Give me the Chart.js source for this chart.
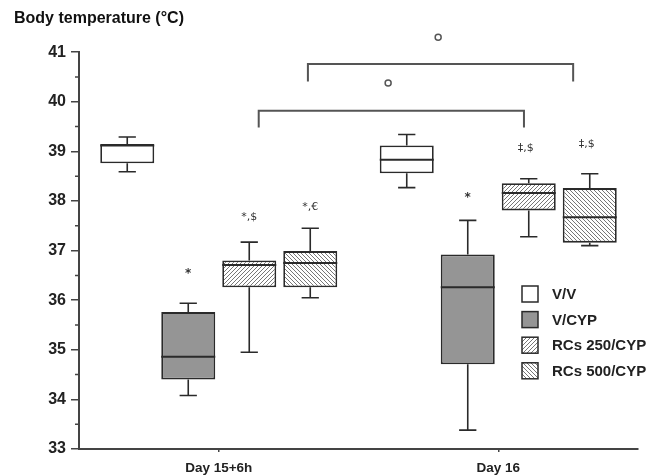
<!DOCTYPE html>
<html>
<head>
<meta charset="utf-8">
<script src="https://cdn.jsdelivr.net/npm/chart.js@4.4.0/dist/chart.umd.min.js"></script>
<style>
  html, body { margin: 0; padding: 0; background: #fff; }
  #wrap { width: 656px; height: 475px; }
</style>
</head>
<body>
<div id="wrap"><canvas id="temp"></canvas></div>
<script>
const categories = ['Day 15+6h', 'Day 16'];
const seriesNames = ['V/V', 'V/CYP', 'RCs 250/CYP', 'RCs 500/CYP'];

// box stats, one value per category
const vvMin = [38.59, 38.27];
const vvQ1  = [38.76, 38.56];
const vvMed = [39.12, 38.83];
const vvQ3  = [39.15, 39.12];
const vvMax = [39.29, 39.34];

const cypMin = [34.08, 33.38];
const cypQ1  = [34.40, 34.71];
const cypMed = [34.86, 36.26];
const cypQ3  = [35.76, 36.92];
const cypMax = [35.94, 37.61];

const rc250Min = [34.95, 37.28];
const rc250Q1  = [36.26, 37.81];
const rc250Med = [36.71, 38.16];
const rc250Q3  = [36.80, 38.36];
const rc250Max = [37.17, 38.45];

const rc500Min = [36.05, 37.10];
const rc500Q1  = [36.26, 37.16];
const rc500Med = [36.75, 37.67];
const rc500Q3  = [36.99, 38.26];
const rc500Max = [37.45, 38.55];

// significance marks above boxes (per series, per category)
const markText = [[null, null], ['*', '*'], ['*,$', '‡,$'], ['*,€', '‡,$']];
const markY    = [[null, null], [36.57, 38.11], [37.68, 39.06], [37.88, 39.14]];

// comparison brackets (x in category units) and their circle marks
const bracketX1   = [0.143, 0.319];
const bracketX2   = [1.092, 1.268];
const bracketY    = [39.82, 40.76];
const bracketLegY = [39.48, 40.41];
const circleX = [0.606, 0.785];
const circleY = [40.38, 41.30];

const yTicksMin = 33, yTicksMax = 41;

const ctx = document.getElementById('temp').getContext('2d');

function hatch(dir) {
  const s = 4;
  const c = document.createElement('canvas');
  c.width = s; c.height = s;
  const g = c.getContext('2d');
  g.fillStyle = '#fff';
  g.fillRect(0, 0, s, s);
  g.strokeStyle = '#777';
  g.lineWidth = 1;
  g.beginPath();
  if (dir > 0) {
    g.moveTo(0, s); g.lineTo(s, 0);
    g.moveTo(-1, 1); g.lineTo(1, -1);
    g.moveTo(s - 1, s + 1); g.lineTo(s + 1, s - 1);
  } else {
    g.moveTo(0, 0); g.lineTo(s, s);
    g.moveTo(s - 1, -1); g.lineTo(s + 1, 1);
    g.moveTo(-1, s - 1); g.lineTo(1, s + 1);
  }
  g.stroke();
  return ctx.createPattern(c, 'repeat');
}

const fills = ['#ffffff', '#959595', hatch(1), hatch(-1)];
const stats = [
  { min: vvMin, q1: vvQ1, med: vvMed, q3: vvQ3, max: vvMax },
  { min: cypMin, q1: cypQ1, med: cypMed, q3: cypQ3, max: cypMax },
  { min: rc250Min, q1: rc250Q1, med: rc250Med, q3: rc250Q3, max: rc250Max },
  { min: rc500Min, q1: rc500Q1, med: rc500Med, q3: rc500Q3, max: rc500Max }
];

const ink = '#2a2a2a';
const fontFam = 'Arial, "Liberation Sans", sans-serif';
Chart.defaults.font.family = fontFam;

// whiskers + medians on top of the floating bars
const boxPlot = {
  id: 'boxPlot',
  afterDatasetsDraw(chart) {
    const c = chart.ctx, y = chart.scales.y;
    c.save();
    c.strokeStyle = ink;
    chart.data.datasets.forEach((ds, i) => {
      const st = stats[i];
      chart.getDatasetMeta(i).data.forEach((bar, j) => {
        const x = bar.x, half = bar.width / 2, cap = bar.width * 0.16;
        const pMin = y.getPixelForValue(st.min[j]);
        const pMax = y.getPixelForValue(st.max[j]);
        const pQ1 = y.getPixelForValue(st.q1[j]);
        const pQ3 = y.getPixelForValue(st.q3[j]);
        const pMed = y.getPixelForValue(st.med[j]);
        c.lineWidth = 1.6;
        c.beginPath();
        c.moveTo(x, pQ3); c.lineTo(x, pMax);
        c.moveTo(x - cap, pMax); c.lineTo(x + cap, pMax);
        c.moveTo(x, pQ1); c.lineTo(x, pMin);
        c.moveTo(x - cap, pMin); c.lineTo(x + cap, pMin);
        c.stroke();
        c.lineWidth = 2;
        c.beginPath();
        c.moveTo(x - half, pMed); c.lineTo(x + half, pMed);
        c.stroke();
      });
    });
    c.restore();
  }
};

// minor ticks, brackets, marks and legend
const extras = {
  id: 'extras',
  afterDraw(chart) {
    const c = chart.ctx, xs = chart.scales.x, y = chart.scales.y;
    const area = chart.chartArea;
    c.save();
    // minor y ticks
    c.strokeStyle = '#444';
    c.lineWidth = 1.5;
    c.beginPath();
    for (let v = yTicksMin + 0.5; v < yTicksMax; v += 1) {
      const py = y.getPixelForValue(v);
      c.moveTo(area.left - 4, py); c.lineTo(area.left, py);
    }
    c.stroke();

    // brackets
    c.strokeStyle = '#555';
    c.lineWidth = 2;
    bracketY.forEach((by, k) => {
      const x1 = xs.getPixelForValue(bracketX1[k]);
      const x2 = xs.getPixelForValue(bracketX2[k]);
      const p = y.getPixelForValue(by), leg = y.getPixelForValue(bracketLegY[k]);
      c.beginPath();
      c.moveTo(x1, leg); c.lineTo(x1, p); c.lineTo(x2, p); c.lineTo(x2, leg);
      c.stroke();
    });
    c.lineWidth = 1.5;
    circleY.forEach((cy, k) => {
      c.beginPath();
      c.arc(xs.getPixelForValue(circleX[k]), y.getPixelForValue(cy), 3, 0, Math.PI * 2);
      c.stroke();
    });

    // significance marks
    c.fillStyle = '#333';
    c.textAlign = 'center';
    c.textBaseline = 'middle';
    markText.forEach((row, i) => {
      const meta = chart.getDatasetMeta(i);
      row.forEach((t, j) => {
        if (!t) return;
        c.font = (t === '*' ? 'bold 12px ' : '11px ') + '"DejaVu Sans", sans-serif';
        c.fillText(t, meta.data[j].x - (j === 1 && t !== '*' ? 3 : 0),
          y.getPixelForValue(markY[i][j]) + (t === '*' ? 2 : 0));
      });
    });

    // legend
    const lx = area.right - 116, ly = area.bottom - 155, step = 25.6, sz = 16;
    c.textAlign = 'left';
    c.font = 'bold 15px ' + fontFam;
    seriesNames.forEach((name, i) => {
      const cy = ly + i * step;
      c.fillStyle = fills[i];
      c.fillRect(lx, cy - sz / 2, sz, sz);
      c.strokeStyle = ink;
      c.lineWidth = 1.5;
      c.strokeRect(lx, cy - sz / 2, sz, sz);
      c.fillStyle = '#222';
      c.fillText(name, lx + 30, cy + 1);
    });
    c.restore();
  }
};

new Chart(ctx, {
  type: 'bar',
  data: {
    labels: categories,
    datasets: seriesNames.map((name, i) => ({
      label: name,
      data: categories.map((_, j) => [stats[i].q1[j], stats[i].q3[j]]),
      backgroundColor: fills[i],
      borderColor: ink,
      borderWidth: 1.8,
      borderSkipped: false,
      categoryPercentage: 0.873,
      barPercentage: 0.885
    }))
  },
  options: {
    responsive: true,
    maintainAspectRatio: false,
    animation: false,
    layout: { padding: { left: 14, right: 18, top: 0, bottom: 0 } },
    scales: {
      x: {
        grid: { drawOnChartArea: false, offset: false, tickLength: 3, color: '#444', lineWidth: 1.5 },
        border: { color: '#444', width: 2 },
        ticks: { font: { size: 13.5, weight: 'bold' }, color: '#222', padding: 8 },
        afterFit(s) { s.height = 26; }
      },
      y: {
        min: yTicksMin,
        max: yTicksMax,
        grid: { drawOnChartArea: false, tickLength: 8, color: '#444', lineWidth: 1.5 },
        border: { color: '#444', width: 2 },
        ticks: { stepSize: 1, font: { size: 16, weight: 'bold' }, color: '#222', padding: 5 },
        afterFit(s) { s.width = 65; }
      }
    },
    plugins: {
      legend: { display: false },
      tooltip: { enabled: false },
      title: {
        display: true,
        text: 'Body temperature (°C)',
        align: 'start',
        color: '#111',
        font: { size: 16, weight: 'bold' },
        padding: { top: 9, bottom: 24 }
      }
    }
  },
  plugins: [boxPlot, extras]
});
</script>
</body>
</html>
